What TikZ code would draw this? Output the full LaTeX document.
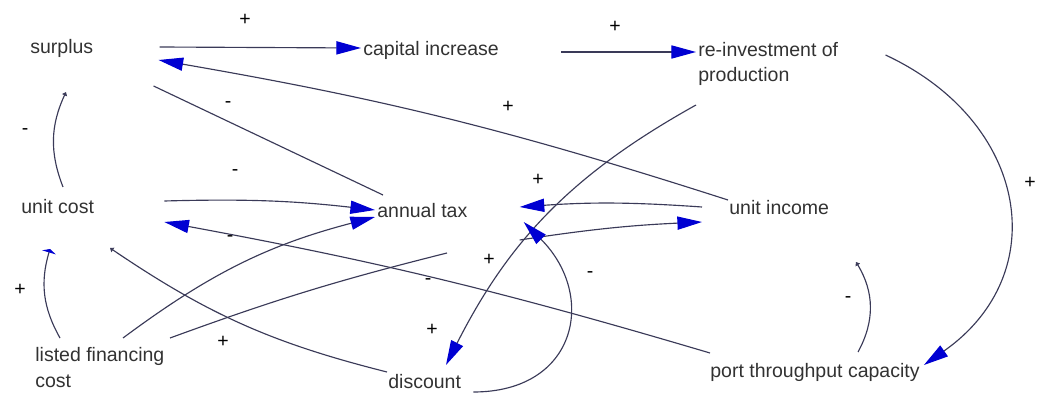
\documentclass[tikz,border=0pt]{standalone}
\usepackage{fontspec}
\setmainfont{Liberation Sans}
\usepackage{xcolor}
\usetikzlibrary{calc,arrows.meta}

\definecolor{linkgray}{RGB}{58,58,88}
\definecolor{tipblue}{RGB}{0,0,210}
\definecolor{labelgray}{RGB}{50,50,50}

\begin{document}
\begin{tikzpicture}[x=0.02cm, y=0.02cm,
		var/.style={anchor=base west, inner sep=0pt, align=left, text=labelgray, font=\fontsize{11.1}{14.7}\selectfont},
		sign/.style={inner sep=0pt, text=black, font=\fontsize{11.1}{13}\selectfont},
		link/.style={draw=linkgray, line width=0.65pt},
		arr/.style={link, -{Triangle[length=14pt,width=7.5pt,color=tipblue]}},
		smallarr/.style={link, -{Triangle[length=2pt,width=3pt,color=linkgray]}},
		flatarr/.style={link, -{Triangle[length=2pt,width=8pt,color=tipblue]}}]
			\useasboundingbox (0,0) rectangle (1038,396);
			
			\node[var] (surplus) at (30,342) {surplus};
			\node[var] (capinc) at (363,340) {capital increase};
			\node[var] (reinv) at (698,314) {re-investment of\\production};
			\node[var] (ucost) at (21,182) {unit cost};
			\node[var] (tax) at (377,178) {annual tax};
			\node[var] (uincome) at (729,181) {unit income};
			\node[var] (lfc) at (35,9) {listed financing\\cost};
			\node[var] (disc) at (388,8) {discount};
			\node[var] (port) at (710,19) {port throughput capacity};
			\coordinate (lfcend) at (447,143);
			
			\node[sign] (p1) at (245,376) {+};
			\node[sign] (p2) at (615,369) {+};
			\node[sign] (m1) at (228,291) {-};
			\node[sign] (p3) at (508,289) {+};
			\node[sign] (m2) at (25,264) {-};
			\node[sign] (m3) at (235,223) {-};
			\node[sign] (p4) at (538,216) {+};
			\node[sign] (p5) at (1030,213) {+};
			\node[sign] (m4) at (230,157) {-};
			\node[sign] (p6) at (489,136) {+};
			\node[sign] (p7) at (20,106) {+};
			\node[sign] (m5) at (428,114) {-};
			\node[sign] (m6) at (590,121) {-};
			\node[sign] (m7) at (848,96) {-};
			\node[sign] (p8) at (223,54) {+};
			\node[sign] (p9) at (432,66) {+};
			
			\draw[arr] ($(surplus.base east)+(66,7)$) to ($(capinc.base west)+(-2,8)$);
			\draw[arr] ($(capinc.base east)+(62,4)$) to ($(reinv.base west)+(-2,30)$);
			\draw[arr] ($(uincome.base west)+(-1,15)$) to [bend right = 4] ($(surplus.base east)+(65,-6)$);
			\draw[link] ($(surplus.base east)+(60,-32)$) to ($(tax.base west)+(6,23)$);
			\draw[arr] ($(ucost.base east)+(70,13)$) to [bend left = 4] ($(tax.base west)+(-2,8)$);
			\draw[arr] ($(port.base west)+(0,24)$) to [bend right = 3] ($(ucost.base east)+(70,-8)$);
			\draw[arr] ($(lfc.base west)+(88,49)$) to [bend left = 11] ($(tax.base west)+(-2,1)$);
			\draw[link] ($(lfc.base west)+(135,49)$) to [bend left = 3] (lfcend);
			\draw[smallarr] ($(disc.base west)+(-1,16)$) to [bend left = 10] ($(ucost.base west)+(89,-34)$);
			\draw[flatarr] ($(lfc.base west)+(25,49)$) to [bend left = 23] ($(ucost.base west)+(29,-35)$);
			\draw[smallarr] ($(ucost.base west)+(42,27)$) to [bend left = 23] ($(surplus.base west)+(36,-38)$);
			\draw[arr] ($(uincome.base west)+(-27,8)$) to [bend right = 4] ($(tax.base east)+(52,11)$);
			\draw[arr] ($(tax.base east)+(52,-22)$) to [bend left = 3] ($(uincome.base west)+(-27,-7)$);
			\draw[arr] ($(reinv.base west)+(-2,-23)$) to [bend right = 17] ($(disc.base west)+(58,23)$);
			\draw[arr] ($(disc.base east)+(12,-4)$) to [out=0, in=-45, looseness=1.5] ($(tax.base east)+(56,-4)$);
			\draw[arr] ($(reinv.base east)+(47,27)$) to [out=-25, in=35, looseness=1.3] ($(port.base east)+(4,12)$);
			\draw[smallarr] ($(port.base west)+(148,25)$) to [bend right = 30] ($(uincome.base west)+(127,-47)$);
		\end{tikzpicture}
\end{document}
